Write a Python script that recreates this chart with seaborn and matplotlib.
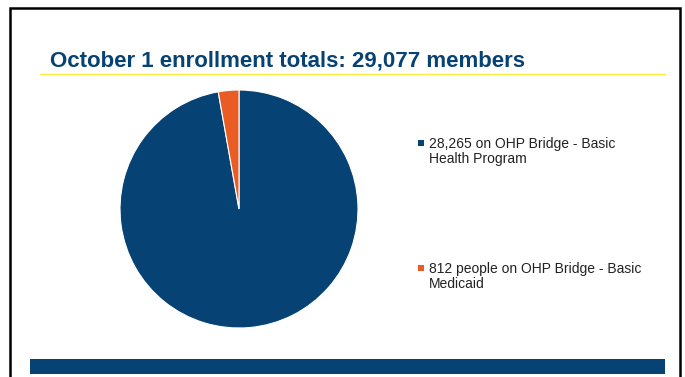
import matplotlib
matplotlib.use("Agg")
import matplotlib.pyplot as plt
from matplotlib.patches import Rectangle
import seaborn as sns

# Data
categories = ["OHP Bridge - Basic Health Program", "OHP Bridge - Basic Medicaid"]
members = [28265, 812]
legend_labels = ["28,265 on OHP Bridge - Basic\nHealth Program",
                 "812 people on OHP Bridge - Basic\nMedicaid"]
title_text = "October 1 enrollment totals: 29,077 members"

sns.set_theme(style="white")
plt.rcParams['font.family'] = ['Liberation Sans', 'DejaVu Sans']

BLUE = "#074274"
ORANGE = "#E95D25"
colors = [BLUE, ORANGE]

W, H = 685, 377
fig = plt.figure(figsize=(W / 100, H / 100), dpi=100)

def fx(px):
    return px / W

def fy(py):
    return 1 - py / H

# slide border
fig.patches.append(Rectangle((fx(10), fy(380)), fx(670), 372 / H, transform=fig.transFigure,
                             fill=False, edgecolor="black", linewidth=1.8))

# title
fig.text(fx(50), fy(66), title_text, fontsize=16, fontweight="bold", color=BLUE,
         va="baseline", ha="left")
# yellow rule
fig.add_artist(plt.Line2D([fx(40), fx(665)], [fy(73.5), fy(73.5)], transform=fig.transFigure,
                          color="#FFE93F", linewidth=1.0))

# bottom band
fig.patches.append(Rectangle((fx(30), fy(374)), fx(635), 15 / H, transform=fig.transFigure,
                             facecolor=BLUE, edgecolor="none"))

# pie
cx, cy, r = 239, 209, 119
ax = fig.add_axes([fx(cx - r), fy(cy + r), 2 * r / W, 2 * r / H])
ax.pie(members, colors=colors, startangle=90, counterclock=False, radius=1,
       wedgeprops=dict(edgecolor="white", linewidth=0.8))
ax.set_xlim(-1, 1)
ax.set_ylim(-1, 1)
ax.set_aspect("auto")
ax.axis("off")

# legend (manual, marker aligned with first line)
baselines = [148, 273]
for lab, col, b in zip(legend_labels, colors, baselines):
    fig.patches.append(Rectangle((fx(418), fy(b - 2)), 6 / W, 6 / H, transform=fig.transFigure,
                                 facecolor=col, edgecolor="none"))
    for j, line in enumerate(lab.split("\n")):
        fig.text(fx(429), fy(b + j * 15.5), line, fontsize=10, color="#222222",
                 va="baseline", ha="left")

fig.savefig("out.png", dpi=100)
